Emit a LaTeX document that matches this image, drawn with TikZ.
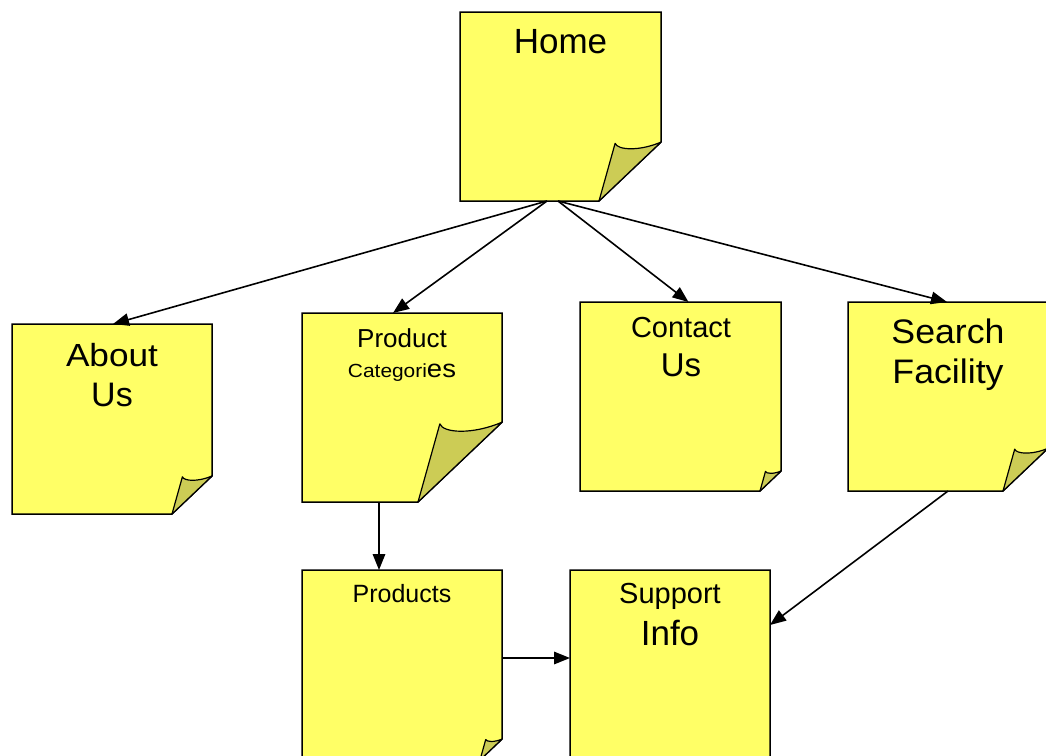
\documentclass[tikz,border=0pt]{standalone}
\usepackage{graphicx}
\usepackage{fontspec}
\setmainfont{Liberation Sans}
\usetikzlibrary{arrows.meta,calc}

\definecolor{paper}{HTML}{FFFF66}
\definecolor{curl}{HTML}{CCCC55}

\tikzset{
  notebox/.style={rectangle, draw=none, inner sep=0pt, outer sep=0pt},
  link/.style={line width=1.6pt, -{Triangle[length=16pt,width=12.5pt]}},
  notetext/.style={anchor=base, inner sep=0pt, text=black},
}

% text set at a given size and widened horizontally
\newcommand{\wtext}[3]{\scalebox{#2}[1]{\fontsize{#1}{#1}\selectfont #3}}

% \stickynote{name}{x1}{y1}{x2}{y2}{fold}: a sheet with a curled lower right corner
\newcommand{\stickynote}[6]{%
  \node[notebox, minimum width={(#4)-(#2)}, minimum height={(#5)-(#3)}]
    (#1) at ({((#2)+(#4))/2},{((#3)+(#5))/2}) {};
  \filldraw[fill=paper, draw=black, line width=1.5pt, line join=miter]
    (#2,#3) -- (#4,#3) -- (#4,{(#5)-0.95*(#6)}) -- ({(#4)-(#6)},#5) -- (#2,#5) -- cycle;
  \filldraw[fill=curl, draw=black, line width=1.2pt, line join=round]
    ({(#4)-(#6)},#5) -- ({(#4)-0.74*(#6)},{(#5)-0.93*(#6)})
    .. controls ({(#4)-0.70*(#6)},{(#5)-0.82*(#6)}) and ({(#4)-0.35*(#6)},{(#5)-0.80*(#6)})
    .. (#4,{(#5)-0.95*(#6)}) -- cycle;
}

\begin{document}
\begin{tikzpicture}[x=1pt, y=-1pt]
  \useasboundingbox (0,0) rectangle (1046,755);
  \clip (0,0) rectangle (1046,755);

  % sheets
  \stickynote{home}{460}{12}{661}{201}{62}
  \stickynote{about}{12}{324}{212}{514}{40}
  \stickynote{cats}{302}{313}{502}{502}{84}
  \stickynote{contact}{580}{302}{781}{491}{21}
  \stickynote{search}{848}{302}{1048}{491}{45}
  \stickynote{products}{302}{570}{502}{760}{22}
  \stickynote{support}{570}{570}{770}{810}{22}

  % labels
  \node[notetext] (homeT) at (560.5,53) {\wtext{35}{1.0}{Home}};
  \node[notetext] (aboutA) at (112,366) {\wtext{32}{1.1}{About}};
  \node[notetext] (aboutB) at (112,406) {\wtext{34}{1.0}{Us}};
  \node[notetext] (catsA) at (402,347) {\wtext{26}{1.0}{Product}};
  \node[notetext] (catsB) at (402,377)
    {\wtext{19}{1.1}{Categori}\wtext{25}{1.1}{es}};
  \node[notetext] (contactA) at (681,337) {\wtext{29}{1.0}{Contact}};
  \node[notetext] (contactB) at (681,376) {\wtext{33}{1.0}{Us}};
  \node[notetext] (searchA) at (948,343) {\wtext{34}{1.05}{Search}};
  \node[notetext] (searchB) at (948,383) {\wtext{34}{1.05}{Facility}};
  \node[notetext] (productsT) at (402,602) {\wtext{25}{1.0}{Products}};
  \node[notetext] (supportA) at (670,603) {\wtext{29}{1.0}{Support}};
  \node[notetext] (supportB) at (670,645) {\wtext{35}{1.0}{Info}};

  % connectors
  \draw[link] ($(home.south)+(-13.5,0)$) -- ($(about.north)+(1,0)$);
  \draw[link] ($(home.south)+(-13.5,0)$) -- ($(cats.north)+(-9,0)$);
  \draw[link] ($(home.south)+(-2.5,0)$) -- ($(contact.north)+(8,0)$);
  \draw[link] ($(home.south)+(-2.5,0)$) -- ($(search.north)+(-1,0)$);
  \draw[link] ($(cats.south)+(-23,0)$) -- ($(products.north)+(-23,0)$);
  \draw[link] ($(products.east)+(0,-7)$) -- (support.west |- {$(products.east)+(0,-7)$});
  \draw[link] (search.south) -- ($(support.north east)+(0,55)$);
\end{tikzpicture}
\end{document}
